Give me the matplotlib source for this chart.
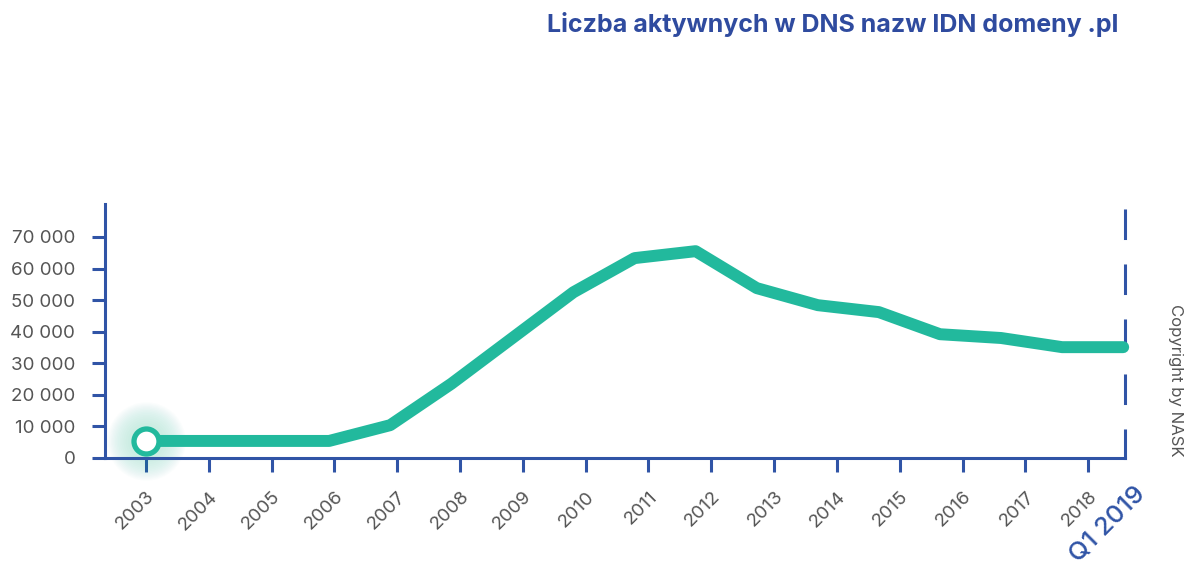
import numpy as np
import matplotlib
matplotlib.use('Agg')
import matplotlib.pyplot as plt
from matplotlib.transforms import ScaledTranslation

# dane (kolejne lata, ostatni punkt = Q1 2019)
years = ['2003', '2004', '2005', '2006', '2007', '2008', '2009', '2010',
         '2011', '2012', '2013', '2014', '2015', '2016', '2017', '2018']
last_label = 'Q1 2019'
idn_count = [5400, 5400, 5400, 5400, 10400, 23500, 38000, 52500, 63300,
             65500, 53800, 48400, 46200, 39200, 38000, 35100, 35100]
y_ticks = [0, 10000, 20000, 30000, 40000, 50000, 60000, 70000]
y_labels = ['0', '10 000', '20 000', '30 000', '40 000', '50 000', '60 000', '70 000']

title = 'Liczba aktywnych w DNS nazw IDN domeny .pl'
copyright_txt = 'Copyright by NASK'

blue = '#3054a6'
teal = '#22b99d'
grey = '#555555'

plt.rcParams['font.family'] = ['Inter', 'DejaVu Sans']

fig = plt.figure(figsize=(11.85, 5.65), dpi=100)
ax = fig.add_axes([0.0886, 0.1894, 0.8608, 0.4496])

x = np.arange(len(idn_count))

# miekka poswiata wokol pierwszego punktu
for s in np.linspace(3200, 700, 14):
    ax.scatter([x[0]], [idn_count[0]], s=s, color=teal, alpha=0.015,
               linewidths=0, zorder=2, clip_on=False)

ax.plot(x, idn_count, color=teal, lw=8.6, solid_capstyle='round',
        zorder=3, clip_on=False)
ax.plot([x[0]], [idn_count[0]], 'o', ms=18, mfc='white', mec=teal,
        mew=3.8, zorder=4, clip_on=False)

ax.set_xlim(-0.67, 16.03)
ax.set_ylim(0, 80450)

tick_pos = np.arange(len(years)) * 1.0285
ax.set_xticks(tick_pos)
ax.set_xticklabels(years, rotation=45, ha='right', va='center',
                   rotation_mode='anchor', color=grey, fontsize=13.5)
ax.set_yticks(y_ticks)
ax.set_yticklabels(y_labels, color=grey, fontsize=13.5)

ax.tick_params(axis='x', length=10, width=2.2, color=blue, pad=16)
ax.tick_params(axis='y', length=9.4, width=2.2, color=blue, pad=12)
shift = ScaledTranslation(6 / 100, 0, fig.dpi_scale_trans)
for lbl in ax.get_xticklabels():
    lbl.set_transform(lbl.get_transform() + shift)

for side in ['left', 'bottom', 'right']:
    ax.spines[side].set_color(blue)
    ax.spines[side].set_linewidth(2.2)
ax.spines['right'].set_linestyle((0, (9, 9)))
ax.spines['top'].set_visible(False)

ax.annotate(last_label, xy=(1, 0), xycoords='axes fraction',
            xytext=(12, -23), textcoords='offset points',
            rotation=45, ha='right', va='center', rotation_mode='anchor',
            color=blue, fontsize=18.5, fontweight='medium')

fig.text(0.9435, 0.956, title, ha='right', va='center',
         color='#2f4b9f', fontsize=18, fontweight='bold')
fig.text(0.9916, 0.327, copyright_txt, rotation=-90, ha='center',
         va='center', color=grey, fontsize=12)

fig.savefig('out.png', dpi=100)
